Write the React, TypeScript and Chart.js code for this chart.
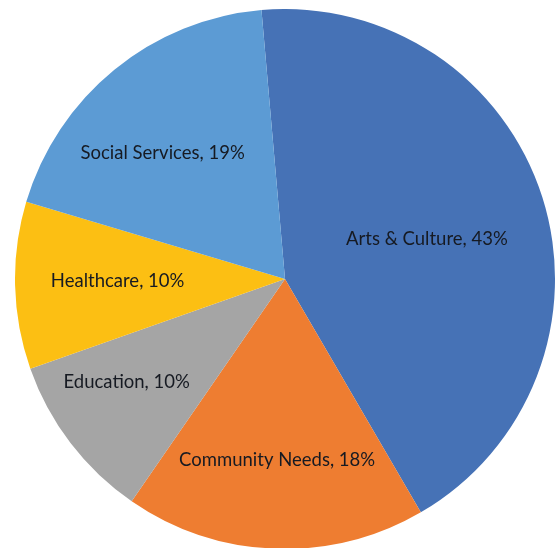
import { useEffect, useRef } from 'react';
import { Chart, registerables, Plugin } from 'chart.js';

Chart.register(...registerables);

const categories = ['Arts & Culture', 'Community Needs', 'Education', 'Healthcare', 'Social Services'];
const shares = [43, 18, 10, 10, 19];

const sliceColors = ['#4672B6', '#EE7D31', '#A5A5A5', '#FCBF13', '#5C9BD4'];
// label placement: fraction of radius, and small angle nudge (degrees) off the slice middle
const labelRadius = [0.546, 0.67, 0.7, 0.62, 0.65];
const labelNudge = [1.9, 0.3, 4.3, 0.7, -5];

const sliceLabels: Plugin<'pie'> = {
  id: 'sliceLabels',
  afterDatasetsDraw(chart) {
    const { ctx } = chart;
    const meta = chart.getDatasetMeta(0);
    const total = shares.reduce((a, b) => a + b, 0);
    ctx.save();
    ctx.font = '18.5px Lato, "Open Sans", sans-serif';
    ctx.fillStyle = '#161a22';
    ctx.textAlign = 'center';
    ctx.textBaseline = 'middle';
    meta.data.forEach((el: any, i) => {
      const { x, y, startAngle, endAngle, outerRadius } = el.getProps(
        ['x', 'y', 'startAngle', 'endAngle', 'outerRadius'],
        true
      );
      const mid = (startAngle + endAngle) / 2 + (labelNudge[i] * Math.PI) / 180;
      const r = outerRadius * labelRadius[i];
      const pct = Math.round((shares[i] / total) * 100);
      ctx.fillText(`${categories[i]}, ${pct}%`, x + Math.cos(mid) * r, y + Math.sin(mid) * r);
    });
    ctx.restore();
  },
};

export default function App() {
  const canvasRef = useRef<HTMLCanvasElement>(null);
  const chartRef = useRef<Chart | null>(null);

  useEffect(() => {
    document.body.style.margin = '0';
    document.body.style.overflow = 'hidden';
    if (!canvasRef.current) return;

    if (chartRef.current) {
      chartRef.current.destroy();
    }

    chartRef.current = new Chart(canvasRef.current, {
      type: 'pie',
      data: {
        labels: categories,
        datasets: [
          {
            data: shares,
            backgroundColor: sliceColors,
            borderWidth: 0,
          },
        ],
      },
      options: {
        responsive: false,
        animation: false,
        rotation: -5,
        layout: { padding: 0 },
        plugins: {
          legend: { display: false },
          tooltip: { enabled: false },
        },
      },
      plugins: [sliceLabels],
    });

    return () => {
      if (chartRef.current) {
        chartRef.current.destroy();
        chartRef.current = null;
      }
    };
  }, []);

  return (
    <div style={{ position: 'relative', width: 556, height: 548, overflow: 'hidden', background: '#fff' }}>
      <canvas
        ref={canvasRef}
        width={540}
        height={540}
        style={{ position: 'absolute', left: 15, top: 9, width: 540, height: 540 }}
      ></canvas>
    </div>
  );
}
